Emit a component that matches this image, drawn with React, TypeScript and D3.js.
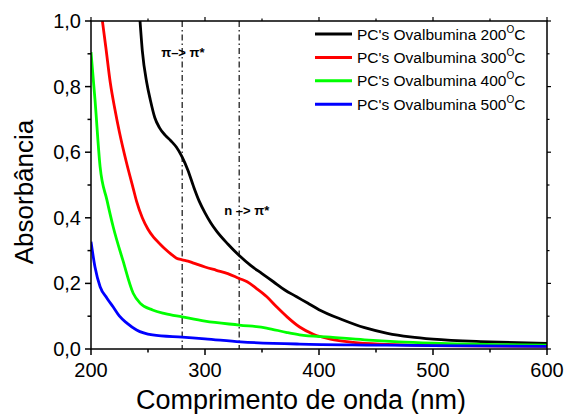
import { useEffect, useRef } from 'react';
import * as d3 from 'd3';

const WIDTH = 566;
const HEIGHT = 414;

// Curvas (comprimento de onda em nm, absorbância)
const wl200 = [243, 245, 249, 252, 256, 260, 265, 270, 275, 280, 285, 290, 295, 300, 305, 310, 320, 330, 340, 350, 360, 370, 380, 390, 400, 420, 440, 460, 480, 500, 550, 600];
const abs200 = [1.0, 0.91, 0.81, 0.76, 0.705, 0.675, 0.652, 0.635, 0.615, 0.585, 0.545, 0.495, 0.45, 0.415, 0.385, 0.36, 0.32, 0.285, 0.255, 0.23, 0.205, 0.18, 0.16, 0.14, 0.12, 0.09, 0.065, 0.048, 0.037, 0.03, 0.022, 0.017];

const wl300 = [210, 213, 217, 221, 225, 231, 237, 240, 245, 250, 255, 260, 265, 270, 275, 280, 285, 290, 300, 310, 320, 330, 337, 345, 354, 363, 372, 383, 395, 410, 430, 460, 500, 600];
const abs300 = [1.0, 0.92, 0.81, 0.73, 0.66, 0.57, 0.49, 0.45, 0.4, 0.365, 0.34, 0.322, 0.305, 0.29, 0.277, 0.272, 0.268, 0.262, 0.25, 0.24, 0.23, 0.215, 0.205, 0.185, 0.16, 0.128, 0.098, 0.067, 0.045, 0.03, 0.02, 0.014, 0.01, 0.008];

const wl400 = [200, 203.5, 208, 214, 219.5, 228, 237, 243, 254, 265, 280, 300, 330, 354, 372, 383, 410, 440, 470, 500, 600];
const abs400 = [0.905, 0.76, 0.555, 0.454, 0.372, 0.27, 0.17, 0.14, 0.119, 0.108, 0.098, 0.085, 0.073, 0.064, 0.05, 0.043, 0.036, 0.028, 0.022, 0.018, 0.012];

const wl500 = [200, 203.5, 208, 214, 219.5, 225, 231.5, 240, 254, 280, 300, 331, 383, 450, 500, 600];
const abs500 = [0.327, 0.25, 0.19, 0.155, 0.128, 0.1, 0.079, 0.058, 0.043, 0.036, 0.031, 0.022, 0.015, 0.012, 0.01, 0.008];

const seriesNames = ['200', '300', '400', '500'];
const seriesColors = ['#000000', '#ff0000', '#00ff00', '#0000ff'];
const seriesX = [wl200, wl300, wl400, wl500];
const seriesY = [abs200, abs300, abs400, abs500];

const xTicks = [200, 300, 400, 500, 600];
const yTicks = [0, 0.2, 0.4, 0.6, 0.8, 1.0];
const transitions = [
  { x: 280, label: 'π–> π*', at: 0.89, dx: -21 },
  { x: 330, label: 'n –> π*', at: 0.41, dx: -15 },
];

export default function App() {
  const svgRef = useRef<SVGSVGElement>(null);

  useEffect(() => {
    if (!svgRef.current) return;
    const svg = d3.select(svgRef.current);
    svg.selectAll('*').remove();

    const margin = { top: 21, right: 19, bottom: 65, left: 91 };
    const innerW = WIDTH - margin.left - margin.right;
    const innerH = HEIGHT - margin.top - margin.bottom;
    const font = 'Arial, "Liberation Sans", sans-serif';

    const x = d3.scaleLinear().domain([200, 600]).range([0, innerW]);
    const y = d3.scaleLinear().domain([0, 1]).range([innerH, 0]);

    const g = svg.append('g').attr('transform', `translate(${margin.left},${margin.top})`);

    g.append('clipPath').attr('id', 'plot-clip')
      .append('rect').attr('width', innerW).attr('height', innerH);

    // linhas de transição (traço-ponto)
    transitions.forEach(t => {
      g.append('line')
        .attr('x1', x(t.x)).attr('x2', x(t.x))
        .attr('y1', 0).attr('y2', innerH)
        .attr('stroke', '#222')
        .attr('stroke-width', 1.3)
        .attr('stroke-dasharray', '6,3,1.5,3');
      g.append('text')
        .attr('x', x(t.x) + t.dx)
        .attr('y', y(t.at))
        .attr('font-family', font)
        .attr('font-size', 13)
        .attr('font-weight', 'bold')
        .attr('fill', '#000')
        .text(t.label);
    });

    // curvas
    const line = d3.line<[number, number]>()
      .x(d => x(d[0]))
      .y(d => y(d[1]))
      .curve(d3.curveMonotoneX);

    const curves = g.append('g').attr('clip-path', 'url(#plot-clip)');
    seriesX.forEach((xs, i) => {
      const pts: [number, number][] = xs.map((v, k) => [v, seriesY[i][k]]);
      curves.append('path')
        .attr('d', line(pts))
        .attr('fill', 'none')
        .attr('stroke', seriesColors[i])
        .attr('stroke-width', 2.8)
        .attr('stroke-linejoin', 'round');
    });

    // moldura
    g.append('rect')
      .attr('width', innerW).attr('height', innerH)
      .attr('fill', 'none').attr('stroke', '#000').attr('stroke-width', 1.5);

    // ticks eixo x
    d3.range(200, 601, 50).forEach(v => {
      const major = v % 100 === 0;
      g.append('line')
        .attr('x1', x(v)).attr('x2', x(v))
        .attr('y1', innerH).attr('y2', innerH + (major ? 6 : 3.5))
        .attr('stroke', '#000').attr('stroke-width', 1.5);
      g.append('line')
        .attr('x1', x(v)).attr('x2', x(v))
        .attr('y1', 0).attr('y2', major ? -4 : -2.5)
        .attr('stroke', '#000').attr('stroke-width', 1.2);
    });
    xTicks.forEach(v => {
      g.append('text')
        .attr('x', x(v)).attr('y', innerH + 28)
        .attr('text-anchor', 'middle')
        .attr('font-family', font).attr('font-size', 20)
        .text(String(v));
    });

    // ticks eixo y
    d3.range(0, 11).forEach(k => {
      const v = k / 10;
      const major = k % 2 === 0;
      g.append('line')
        .attr('x1', 0).attr('x2', major ? -6 : -3.5)
        .attr('y1', y(v)).attr('y2', y(v))
        .attr('stroke', '#000').attr('stroke-width', 1.5);
      g.append('line')
        .attr('x1', innerW).attr('x2', innerW + (major ? 4 : 2.5))
        .attr('y1', y(v)).attr('y2', y(v))
        .attr('stroke', '#000').attr('stroke-width', 1.2);
    });
    yTicks.forEach(v => {
      g.append('text')
        .attr('x', -10).attr('y', y(v))
        .attr('dy', '0.35em')
        .attr('text-anchor', 'end')
        .attr('font-family', font).attr('font-size', 20)
        .text(v.toFixed(1).replace('.', ','));
    });

    // títulos dos eixos
    svg.append('text')
      .attr('x', 301).attr('y', 409)
      .attr('text-anchor', 'middle')
      .attr('font-family', font).attr('font-size', 27)
      .text('Comprimento de onda (nm)');

    svg.append('text')
      .attr('transform', 'translate(33,192) rotate(-90)')
      .attr('text-anchor', 'middle')
      .attr('font-family', font).attr('font-size', 26)
      .text('Absorbância');

    // legenda
    const legend = svg.append('g');
    seriesNames.forEach((name, i) => {
      const ly = 34 + i * 23.4;
      legend.append('line')
        .attr('x1', 315).attr('x2', 352)
        .attr('y1', ly).attr('y2', ly)
        .attr('stroke', seriesColors[i]).attr('stroke-width', 3);
      const t = legend.append('text')
        .attr('x', 357).attr('y', ly + 5.5)
        .attr('font-family', font).attr('font-size', 15.5);
      t.append('tspan').text(`PC's Ovalbumina ${name}`);
      t.append('tspan').attr('dy', -7).attr('font-size', 10).text('O');
      t.append('tspan').attr('dy', 7).text('C');
    });
  }, []);

  return (
    <svg
      ref={svgRef}
      width={WIDTH}
      height={HEIGHT}
      style={{ position: 'absolute', left: 0, top: 0, background: '#fff' }}
    />
  );
}
